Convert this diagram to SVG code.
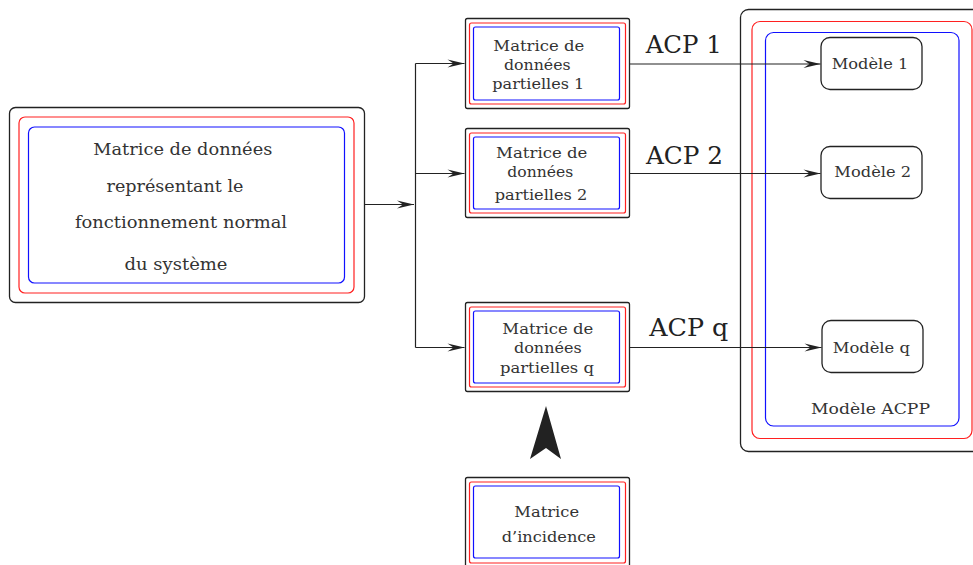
<svg xmlns="http://www.w3.org/2000/svg" width="973" height="565" viewBox="0 0 973 565">
<defs>
<style>
.k{fill:none;stroke:#222;stroke-width:1.3}
.r{fill:none;stroke:#ff2020;stroke-width:1.2}
.b{fill:none;stroke:#1010ff;stroke-width:1.2}
.t{font-family:"DejaVu Serif","Liberation Serif",serif;fill:#333;text-anchor:middle}
.big{font-size:16.5px}
.sm{font-size:14px}
.md{font-size:14px}
.acp{font-size:25px;fill:#222;text-anchor:start}
.ln{fill:none;stroke:#222;stroke-width:1.2}
</style>
<marker id="ah" markerWidth="19" markerHeight="10" viewBox="-18 -5 19 10" refX="0" refY="0" orient="auto" markerUnits="userSpaceOnUse">
<path d="M0,0 L-17,-4 L-11,0 L-17,4 Z" fill="#222"/>
</marker>
</defs>
<rect width="973" height="565" fill="#fff"/>
<g id="source">
<rect class="k" x="9.5" y="107.5" width="355" height="195" rx="6"/>
<rect class="r" x="19" y="117" width="335" height="176" rx="6"/>
<rect class="b" x="28.5" y="127" width="316" height="156" rx="6"/>
<text class="t big" x="182.8" y="155" textLength="179" lengthAdjust="spacingAndGlyphs">Matrice de données</text>
<text class="t big" x="175" y="192" textLength="137" lengthAdjust="spacingAndGlyphs">représentant le</text>
<text class="t big" x="181" y="228" textLength="212" lengthAdjust="spacingAndGlyphs">fonctionnement normal</text>
<text class="t big" x="176" y="270" textLength="103" lengthAdjust="spacingAndGlyphs">du système</text>
</g>
<g id="partial1">
<rect class="k" x="465.5" y="18.5" width="164" height="90" rx="2"/>
<rect class="r" x="469.5" y="23" width="156" height="81" rx="2"/>
<rect class="b" x="473.5" y="27" width="146" height="73" rx="2"/>
<text class="t sm" x="538.8" y="51" textLength="91" lengthAdjust="spacingAndGlyphs">Matrice de</text>
<text class="t sm" x="537.3" y="70" textLength="66.7" lengthAdjust="spacingAndGlyphs">données</text>
<text class="t sm" x="538.3" y="89" textLength="92" lengthAdjust="spacingAndGlyphs">partielles 1</text>
</g>
<g id="partial2">
<rect class="k" x="465.5" y="128.5" width="164" height="89" rx="2"/>
<rect class="r" x="469.5" y="133" width="156" height="80" rx="2"/>
<rect class="b" x="473.5" y="137" width="146" height="72" rx="2"/>
<text class="t sm" x="541.7" y="158" textLength="91.3" lengthAdjust="spacingAndGlyphs">Matrice de</text>
<text class="t sm" x="540.3" y="177" textLength="66" lengthAdjust="spacingAndGlyphs">données</text>
<text class="t sm" x="541" y="200" textLength="92.7" lengthAdjust="spacingAndGlyphs">partielles 2</text>
</g>
<g id="partialq">
<rect class="k" x="465.5" y="302.5" width="164" height="89" rx="2"/>
<rect class="r" x="469.5" y="307" width="156" height="80" rx="2"/>
<rect class="b" x="473.5" y="311" width="146" height="72" rx="2"/>
<text class="t sm" x="547.8" y="334" textLength="91" lengthAdjust="spacingAndGlyphs">Matrice de</text>
<text class="t sm" x="547.8" y="353" textLength="67.7" lengthAdjust="spacingAndGlyphs">données</text>
<text class="t sm" x="547" y="373" textLength="94" lengthAdjust="spacingAndGlyphs">partielles q</text>
</g>
<g id="incidence">
<rect class="k" x="465.5" y="477.5" width="164" height="92" rx="2"/>
<rect class="r" x="469.5" y="482" width="156" height="81" rx="2"/>
<rect class="b" x="473.5" y="486" width="146" height="72" rx="2"/>
<text class="t sm" x="546.7" y="517" textLength="64.7" lengthAdjust="spacingAndGlyphs">Matrice</text>
<text class="t sm" x="548.8" y="542" textLength="94.3" lengthAdjust="spacingAndGlyphs">d’incidence</text>
</g>
<g id="acpp">
<rect class="k" x="740.5" y="9.5" width="250" height="442" rx="8"/>
<rect class="r" x="752" y="21.5" width="220" height="417" rx="8"/>
<rect class="b" x="765.5" y="32.5" width="193.5" height="393.5" rx="8"/>
<text class="t md" x="870.5" y="414" textLength="119" lengthAdjust="spacingAndGlyphs">Modèle ACPP</text>
</g>
<g id="modele1">
<rect class="k" x="821" y="37.5" width="101" height="52" rx="9"/>
<text class="t md" x="870" y="69" textLength="76.7" lengthAdjust="spacingAndGlyphs">Modèle 1</text>
</g>
<g id="modele2">
<rect class="k" x="821" y="146.5" width="101" height="52" rx="9"/>
<text class="t md" x="872.7" y="177" textLength="76.7" lengthAdjust="spacingAndGlyphs">Modèle 2</text>
</g>
<g id="modeleq">
<rect class="k" x="822" y="320.5" width="101" height="52" rx="9"/>
<text class="t md" x="871.3" y="353" textLength="77.3" lengthAdjust="spacingAndGlyphs">Modèle q</text>
</g>
<g id="connectors">
<path class="ln" d="M364.5,204.5 H414" marker-end="url(#ah)"/>
<path class="ln" d="M415.5,63.5 V347.5"/>
<path class="ln" d="M415.5,63.5 H464.5" marker-end="url(#ah)"/>
<path class="ln" d="M415.5,173.5 H464.5" marker-end="url(#ah)"/>
<path class="ln" d="M415.5,347.5 H464.5" marker-end="url(#ah)"/>
<path class="ln" d="M629.5,64 H820.5" marker-end="url(#ah)"/>
<path class="ln" d="M629.5,173.5 H820.5" marker-end="url(#ah)"/>
<path class="ln" d="M629.5,347.5 H821.5" marker-end="url(#ah)"/>
<path d="M546,406 L561,459 L546,448 L530,459 Z" fill="#222"/>
<text class="t acp" x="645.7" y="53" textLength="76" lengthAdjust="spacingAndGlyphs">ACP 1</text>
<text class="t acp" x="646" y="164" textLength="77" lengthAdjust="spacingAndGlyphs">ACP 2</text>
<text class="t acp" x="649.3" y="336" textLength="79" lengthAdjust="spacingAndGlyphs">ACP q</text>
</g>
</svg>
